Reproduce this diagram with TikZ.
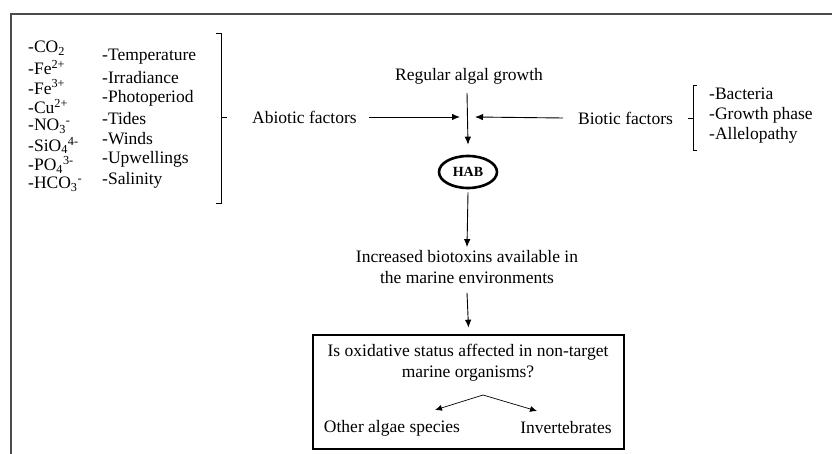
\documentclass[tikz,border=0pt]{standalone}
\usepackage{fontspec}
\setmainfont{Liberation Serif}
\usetikzlibrary{arrows.meta,shapes.geometric}
\tikzset{
  txt/.style={inner sep=0pt, font=\fontsize{17.5}{21}\selectfont},
  item/.style={txt, anchor=west},
  arr/.style={line width=0.9pt, -{Latex[length=8pt,width=6.5pt]}},
  brace/.style={line width=0.9pt},
}
\begin{document}
\begin{tikzpicture}[x=1pt,y=-1pt]
\useasboundingbox (0,0) rectangle (832,454);
% frame
\draw[black!70, line width=2pt] (10.5,454) -- (10.5,14) -- (832,14);
% chemical list
\node[item] (c1) at (28,48) {-CO\textsubscript{2}};
\node[item] (c2) at (28,67.5) {-Fe\textsuperscript{2+}};
\node[item] (c3) at (28,87) {-Fe\textsuperscript{3+}};
\node[item] (c4) at (28,106.5) {-Cu\textsuperscript{2+}};
\node[item] (c5) at (28,126) {-NO\textsubscript{3}\textsuperscript{-}};
\node[item] (c6) at (28,145.5) {-SiO\textsubscript{4}\textsuperscript{4-}};
\node[item] (c7) at (28,165) {-PO\textsubscript{4}\textsuperscript{3-}};
\node[item] (c8) at (28,184.5) {-HCO\textsubscript{3}\textsuperscript{-}};
% physical list
\node[item] (p1) at (102,57) {-Temperature};
\node[item] (p2) at (102,77.5) {-Irradiance};
\node[item] (p3) at (102,98) {-Photoperiod};
\node[item] (p4) at (102,118.5) {-Tides};
\node[item] (p5) at (102,139) {-Winds};
\node[item] (p6) at (102,159.5) {-Upwellings};
\node[item] (p7) at (102,180) {-Salinity};
% abiotic brace
\draw[brace] (216,33) -- (221,33) -- (221,203) -- (216,203);
\draw[brace] (221,117) -- (227,117);
% abiotic / biotic
\node[item] (abio) at (252,117) {Abiotic factors};
\node[item] (bio) at (578,118) {Biotic factors};
\node[txt] (reg) at (469,76) {Regular algal growth};
\coordinate (mL) at (460,117);
\coordinate (mR) at (475,117);
\draw[arr] ([xshift=12pt]abio.east) -- (mL);
\draw[arr] ([xshift=-15pt]bio.west) -- (mR);
% biotic brace
\draw[brace] (697,85) -- (693,85) -- (693,150) -- (697,150);
\draw[brace] (693,118) -- (688,118);
\node[item] (b1) at (709,94) {-Bacteria};
\node[item] (b2) at (709,115) {-Growth phase};
\node[item] (b3) at (709,135) {-Allelopathy};
% HAB
\node[draw, ellipse, line width=2.6pt, minimum width=58pt, minimum height=32pt, inner sep=0pt,
      font=\fontsize{14}{16}\selectfont\bfseries] (hab) at (468,172) {HAB};
\coordinate (regb) at (467,93);
\draw[arr] (regb) -- ([yshift=10pt]hab.north);
% increased
\node[txt, align=center] (inc) at (467,267) {Increased biotoxins available in\\the marine environments};
\draw[arr] ([yshift=-3pt]hab.south) -- ([yshift=3pt]inc.north);
% box
\node[draw, line width=2.6pt, minimum width=311pt, minimum height=114pt, inner sep=0pt] (box) at (468.5,392) {};
\draw[arr] ([yshift=-9pt]inc.south) -- ([yshift=6pt]box.north);
\node[txt, align=center] (q) at (468,363) {Is oxidative status affected in non-target\\marine organisms?};
\coordinate (apex) at (483,395);
\node[txt] (alg) at (392,428) {Other algae species};
\node[txt] (inv) at (566,428) {Invertebrates};
\draw[line width=0.7pt, -{Latex[length=7pt,width=6pt]}] (apex) -- (435,410);
\draw[line width=0.7pt, -{Latex[length=7pt,width=6pt]}] (apex) -- (537,411);
\end{tikzpicture}
\end{document}
